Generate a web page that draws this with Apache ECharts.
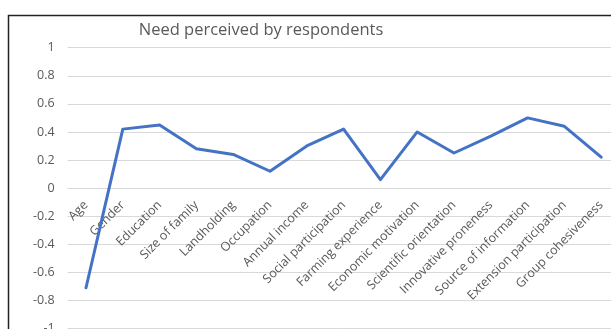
<!DOCTYPE html>
<html>
<head>
<meta charset="utf-8">
<script src="https://cdn.jsdelivr.net/npm/echarts@6/dist/echarts.min.js"></script>
<style>
html,body{margin:0;padding:0;background:#fff;}
#chart{width:611px;height:329px;}
</style>
</head>
<body>
<div id="chart"></div>
<script>
const titleText = "Need perceived by respondents";
const categories = ["Age","Gender","Education","Size of family","Landholding","Occupation","Annual income","Social participation","Farming experience","Economic motivation","Scientific orientation","Innovative proneness","Source of information","Extension participation","Group cohesiveness"];
const values = [-0.71, 0.42, 0.45, 0.28, 0.24, 0.12, 0.30, 0.42, 0.06, 0.40, 0.25, 0.37, 0.50, 0.44, 0.22];
const yMin = -1, yMax = 1, yStep = 0.2;

const gridTop = 47.7, gridHeight = 280.8;
// distance from grid bottom (yMin) up to the zero line
const zeroOffset = -gridHeight * (0 - yMin) / (yMax - yMin);

const chart = echarts.init(document.getElementById('chart'), null, {renderer:'canvas'});
chart.setOption({
  animation:false,
  backgroundColor:'#fff',
  graphic:[{
    type:'rect', z:-1,
    shape:{x:8.5, y:15.5, width:700, height:400},
    style:{fill:'none', stroke:'#222', lineWidth:1.5}
  }],
  title:{
    text:titleText, left:256, top:17, textAlign:'center',
    textStyle:{fontFamily:'Open Sans', fontSize:16.5, fontWeight:'normal', color:'#595959'}
  },
  grid:{left:67.6, top:gridTop, width:552, height:gridHeight, containLabel:false, outerBoundsMode:'none'},
  xAxis:{
    type:'category', data:categories, boundaryGap:true, position:'bottom',
    offset:zeroOffset,
    axisLine:{onZero:false, lineStyle:{color:'#D9D9D9', width:1}},
    axisTick:{show:false},
    axisLabel:{interval:0, rotate:45, margin:15, color:'#595959', fontFamily:'Open Sans', fontSize:12.5},
    splitLine:{show:false}
  },
  yAxis:{
    type:'value', min:yMin, max:yMax, interval:yStep,
    axisLine:{show:false}, axisTick:{show:false},
    axisLabel:{color:'#595959', fontFamily:'Open Sans', fontSize:12.5, margin:13},
    splitLine:{lineStyle:{color:'#D9D9D9', width:1}}
  },
  series:[{
    type:'line', data:values, smooth:false, symbol:'none',
    lineStyle:{color:'#4472C4', width:3, join:'round', cap:'round'}
  }]
});
</script>
</body>
</html>
